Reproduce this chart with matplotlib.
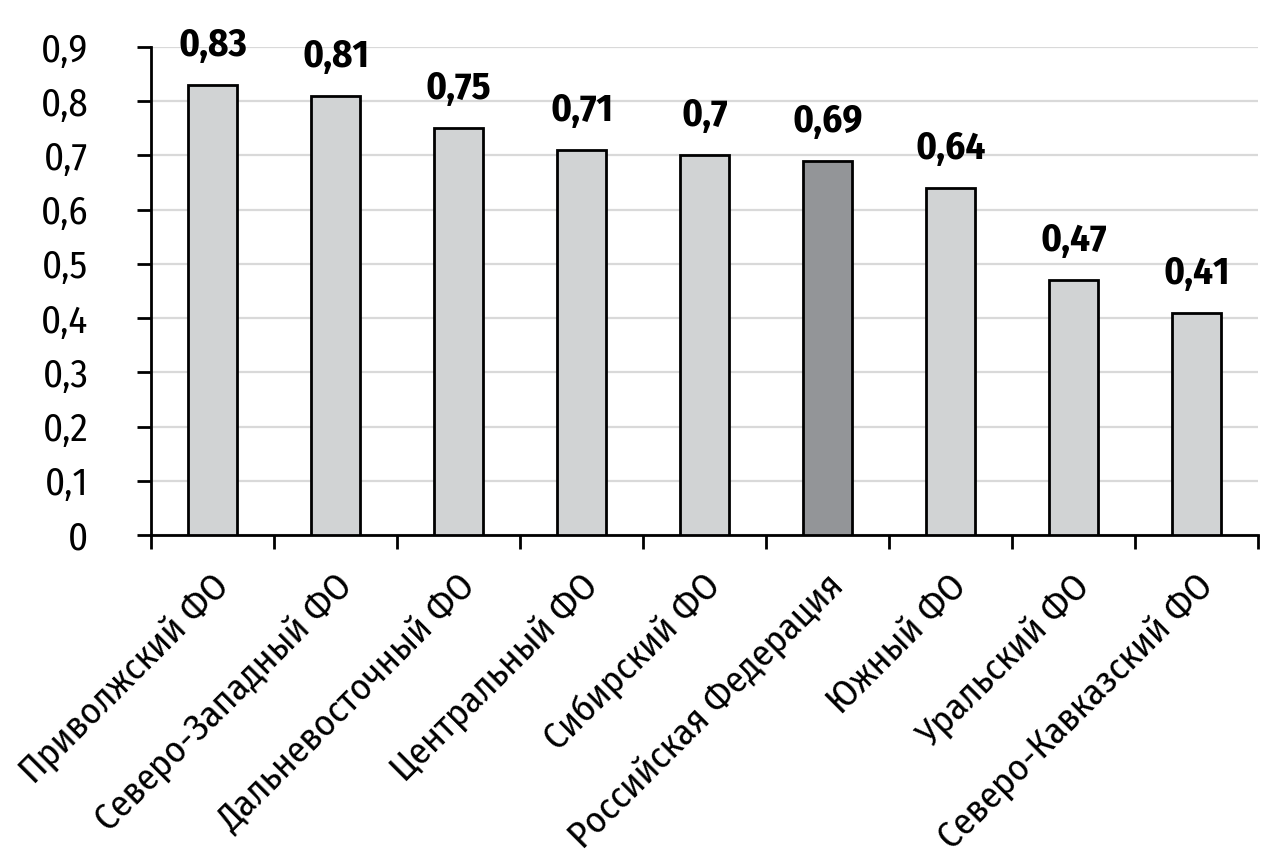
import numpy as np
import matplotlib.pyplot as plt
from matplotlib import font_manager
from matplotlib.transforms import ScaledTranslation

regions = ["Приволжский ФО", "Северо-Западный ФО", "Дальневосточный ФО",
           "Центральный ФО", "Сибирский ФО", "Российская Федерация",
           "Южный ФО", "Уральский ФО", "Северо-Кавказский ФО"]
values = [0.83, 0.81, 0.75, 0.71, 0.70, 0.69, 0.64, 0.47, 0.41]
highlight = "Российская Федерация"
yticks = [0, 0.1, 0.2, 0.3, 0.4, 0.5, 0.6, 0.7, 0.8, 0.9]

# narrow font, DIN-like, with cyrillic
names = {f.name for f in font_manager.fontManager.ttflist}
fam = 'DejaVu Sans'
for cand in ['Fira Sans Condensed', 'IBM Plex Sans Condensed', 'PT Sans Narrow', 'Roboto Condensed']:
    if cand in names:
        fam = cand
        break
plt.rcParams['font.family'] = [fam, 'DejaVu Sans']

fig = plt.figure(figsize=(12.84, 8.64), dpi=100)
ax = fig.add_axes([151 / 1284, 1 - 535 / 864, (1258 - 151) / 1284, (535 - 47) / 864])

x = np.arange(len(regions))
colors = ['#939598' if r == highlight else '#d1d3d4' for r in regions]
ax.bar(x, values, width=0.4, color=colors, edgecolor='black', linewidth=2, zorder=3)

for xi, v in zip(x, values):
    s = ('%g' % v).replace('.', ',')
    ax.annotate(s, (xi, v), xytext=(0, 21), textcoords='offset points',
                ha='center', va='baseline', fontsize=28, fontweight='bold')

ax.set_xlim(-0.5, len(regions) - 0.5)
ax.set_ylim(0, 0.9)
ax.set_yticks(yticks)
ax.set_yticklabels([('%g' % t).replace('.', ',') for t in yticks], fontsize=28)
ax.yaxis.grid(True, color='#d9d9d9', linewidth=1.6, zorder=0)
ax.set_axisbelow(True)

# category boundaries as ticks, names as rotated text
ax.set_xticks(np.arange(len(regions) + 1) - 0.5)
ax.set_xticklabels([])
ax.tick_params(axis='x', length=10, width=2)
ax.tick_params(axis='y', length=10, width=2, pad=35)

shift = ax.get_xaxis_transform() + ScaledTranslation(-2 / 100, -33 / 100, fig.dpi_scale_trans)
for xi, name in zip(x, regions):
    ax.text(xi, 0, name, transform=shift, rotation=45, ha='right', va='top',
            rotation_mode='anchor', fontsize=27)

for side in ['top', 'right']:
    ax.spines[side].set_visible(False)
for side in ['left', 'bottom']:
    ax.spines[side].set_linewidth(2)

fig.savefig('out.png', dpi=100)
